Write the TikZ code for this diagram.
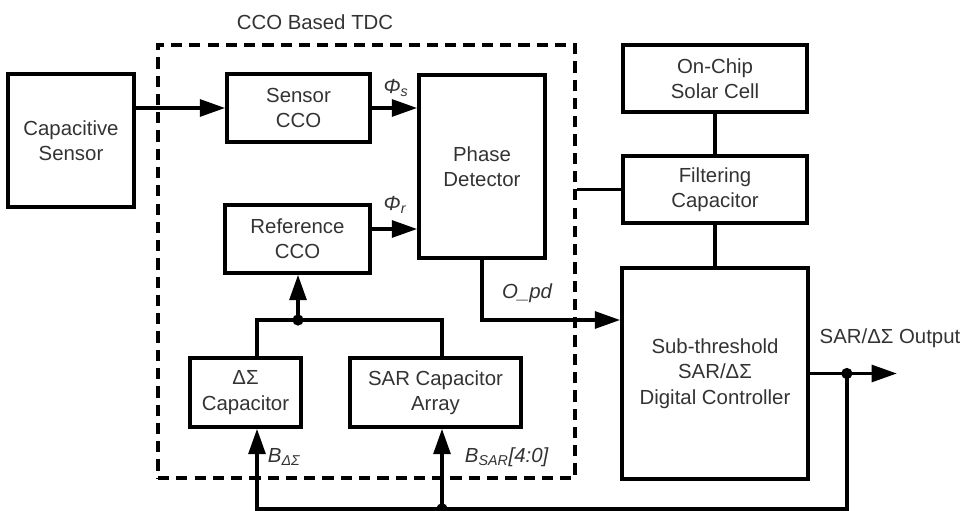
\documentclass[tikz,border=0pt]{standalone}
\usepackage{fontspec}
\setmainfont{Liberation Sans}
\usetikzlibrary{arrows.meta,calc}
\definecolor{txtgray}{HTML}{333333}

\begin{document}
\begin{tikzpicture}[x=0.025cm,y=-0.025cm,
  every node/.style={font=\fontsize{14.5}{18}\selectfont,text=txtgray},
  blk/.style={draw=black,line width=2.6pt,align=center,inner sep=0pt},
  wire/.style={line width=2.4pt},
  arr/.style={wire,-{Triangle[length=18pt,width=12pt]}},
  lbl/.style={font=\fontsize{14.5}{18}\selectfont\itshape},
  dot/.style={circle,fill=black,inner sep=0pt,minimum size=8pt}]
\useasboundingbox (0,0) rectangle (971,511);
\node[draw=black,line width=2.4pt,dash pattern=on 8pt off 5pt,minimum width=10.425cm,minimum height=10.825cm] (tdc) at (366.5,261.5) {};
\node (title) at (315,22) {CCO Based TDC};
\node[blk,minimum width=3.15cm,minimum height=3.325cm] (cap) at (71,140.5) {Capacitive\\Sensor};
\node[blk,minimum width=3.575cm,minimum height=1.7cm] (scco) at (298.5,108) {Sensor\\CCO};
\node[blk,minimum width=3.15cm,minimum height=4.575cm] (pd) at (482,166.5) {Phase\\Detector};
\node[blk,minimum width=3.625cm,minimum height=1.7cm] (rcco) at (297.5,239) {Reference\\CCO};
\node[blk,minimum width=2.775cm,minimum height=1.725cm] (dsc) at (245.5,392.5) {ΔΣ\\Capacitor};
\node[blk,minimum width=4.275cm,minimum height=1.725cm] (sar) at (435.5,392.5) {SAR Capacitor\\Array};
\node[blk,minimum width=4.6cm,minimum height=1.675cm] (solar) at (715,78.5) {On-Chip\\Solar Cell};
\node[blk,minimum width=4.6cm,minimum height=1.675cm] (filt) at (715,189.5) {Filtering\\Capacitor};
\node[blk,minimum width=4.65cm,minimum height=5.275cm] (ctrl) at (715,373.5) {Sub-threshold\\SAR/ΔΣ\\Digital Controller};
\coordinate (jr) at (298,320);
\coordinate (jo) at ($(ctrl.east)+(37,0)$);
\coordinate (jb) at ($(sar.south)+(6.5,80)$);
\draw[arr] (cap.east |- scco.west) -- (scco.west);
\draw[arr] (scco.east) -- (scco.east -| pd.west);
\draw[arr] ($(rcco.east)+(0,-10)$) coordinate (rs) -- (rs -| pd.west);
\draw[wire] ($(dsc.north)+(11.5,0)$) |- (jr) -| ($(sar.north)+(6.5,0)$);
\draw[arr] (jr) -- (jr |- rcco.south);
\draw[arr] (pd.south) |- (ctrl.west |- jr);
\draw[wire] (solar) -- (filt);
\draw[wire] (filt) -- (ctrl);
\draw[wire] (filt.west) -- (filt.west -| tdc.east);
\draw[arr] (ctrl.east) -- ++(87,0);
\draw[arr] (jo) |- (jb) -| ($(dsc.south)+(11.5,0)$);
\draw[arr] (jb) -- ($(sar.south)+(6.5,0)$);
\node[dot] at (jr) {};
\node[dot] at (jo) {};
\node[dot] at (jb) {};
\node[lbl] (phis) at (396,88) {Φ\textsubscript{s}};
\node[lbl] (phir) at (395,205) {Φ\textsubscript{r}};
\node[lbl] (opd) at (527,293) {O\_pd};
\node[lbl,anchor=west] (bds) at (263,457) {B\textsubscript{ΔΣ}};
\node[lbl,anchor=west] (bsar) at (460,457) {B\textsubscript{SAR}[4:0]};
\node (outlbl) at (890,338) {SAR/ΔΣ Output};
\end{tikzpicture}
\end{document}
